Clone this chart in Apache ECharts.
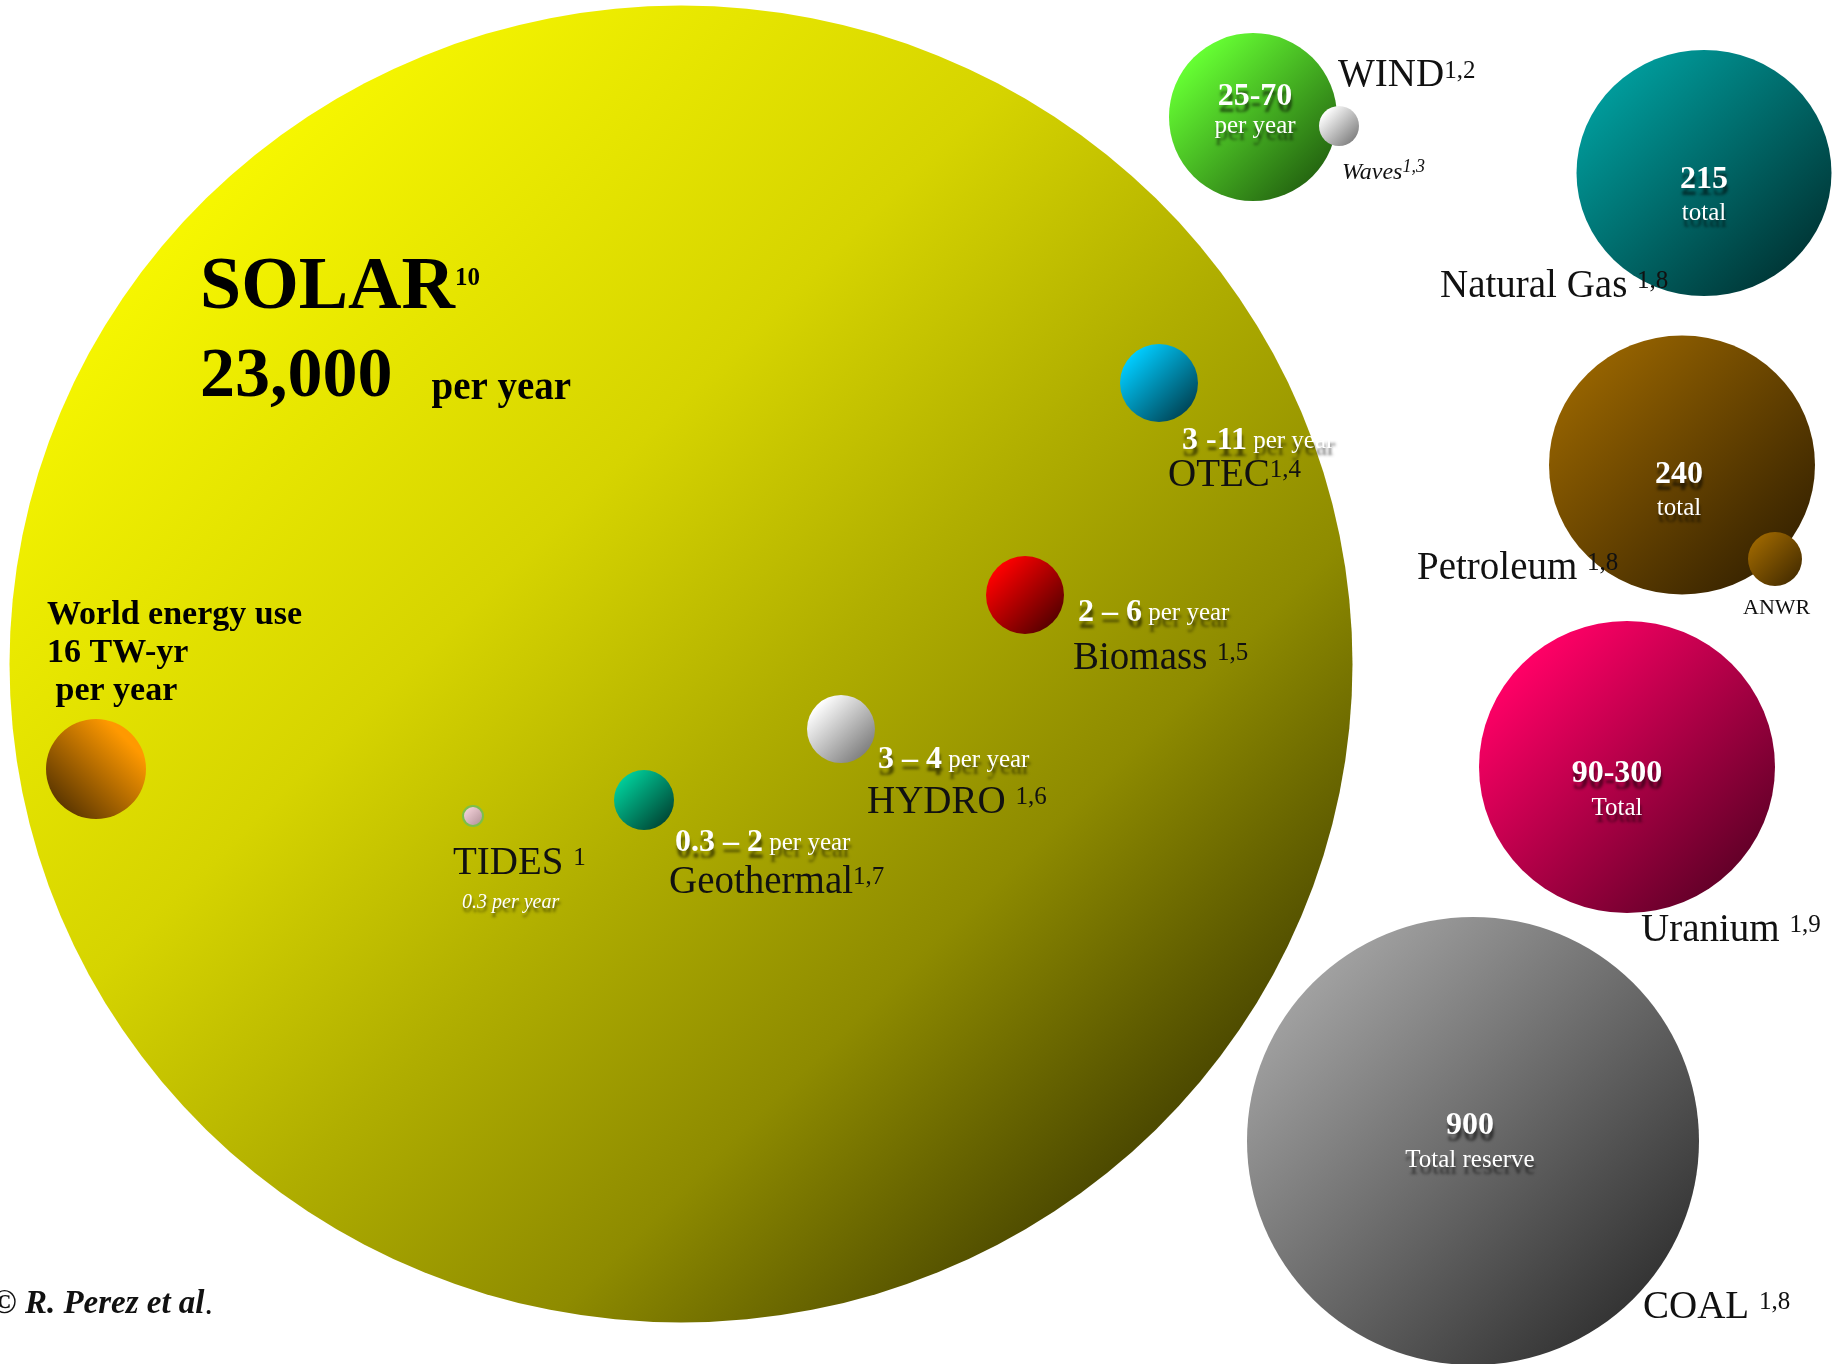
<!DOCTYPE html>
<html><head><meta charset="utf-8">
<script src="https://cdn.jsdelivr.net/npm/echarts@6/dist/echarts.min.js"></script>
<style>html,body{margin:0;padding:0;background:#fff}#c{width:1836px;height:1364px}</style>
</head><body><div id="c"></div><script>
// ---- data ----
const sources   = ['Solar','World energy use','Wind','Waves','Natural Gas','Petroleum','ANWR','Uranium','Coal','OTEC','Biomass','Hydro','Geothermal','Tides'];
const amounts   = ['23,000 per year','16 TW-yr per year','25-70 per year','','215 total','240 total','','90-300 Total','900 Total reserve','3-11 per year','2-6 per year','3-4 per year','0.3-2 per year','0.3 per year'];
const layoutX   = [681, 96, 1253, 1339, 1704, 1682, 1775, 1627, 1473, 1159, 1025, 841, 644, 473];
const layoutY   = [664, 769, 117, 126, 173, 465, 559, 767, 1141, 383, 595, 729, 800, 816];
const widths    = [1343, 100, 168, 40, 255, 266, 54, 296, 452, 78, 78, 68, 60, 20];
const heights   = [1317, 100, 168, 40, 246, 259, 54, 292, 448, 78, 78, 68, 60, 20];
const lightCols = ['#ffff00','#ff9900','#66ff33','#ffffff','#009a9a','#946200','#9a6500','#ff0066','#a0a0a0','#00ccff','#ff0000','#ffffff','#00cc99','#f6d4dc'];
const darkCols  = ['#2e2c00','#3a2200','#18480a','#6a6a6a','#002424','#271800','#3a2500','#44001c','#1e1e1e','#002c38','#380000','#666666','#003024','#a88890'];

const FONT = '"Liberation Serif", "Times New Roman", serif';

// ---- bubbles ----
const bubbleData = sources.map((name, i) => {
  let grad;
  if (i === 0) {
    grad = new echarts.graphic.LinearGradient(0, 0, 1, 1, [
      {offset: 0, color: '#ffff00'}, {offset: 0.15, color: '#f6f600'},
      {offset: 0.4, color: '#d6d400'}, {offset: 0.55, color: '#b0ae00'},
      {offset: 0.7, color: '#8e8b00'}, {offset: 0.85, color: '#4e4b00'},
      {offset: 1, color: darkCols[0]}]);
  } else if (name === 'World energy use') {
    grad = new echarts.graphic.LinearGradient(1, 0, 0, 1, [
      {offset: 0, color: lightCols[i]}, {offset: 0.2, color: lightCols[i]}, {offset: 1, color: darkCols[i]}]);
  } else {
    grad = new echarts.graphic.LinearGradient(0, 0, 1, 1, [
      {offset: 0, color: lightCols[i]}, {offset: 0.15, color: lightCols[i]}, {offset: 1, color: darkCols[i]}]);
  }
  const item = { name: name, value: [layoutX[i], layoutY[i], widths[i], heights[i]], itemStyle: { color: grad, opacity: 1 } };
  if (name === 'Tides') { item.itemStyle.borderColor = '#7cbf4a'; item.itemStyle.borderWidth = 2; }
  return item;
});

// ---- annotations: [x, baseline, align, rich text, main size, line height] ----
const notes = [
  [200, 310, 'left', '{solar|SOLAR}{solarSup|10}', 74, 84],
  [200, 398, 'left', '{num|23,000}{perB|    per year}', 70, 80],
  [47, 623, 'left', '{w|World energy use}\n{w|16 TW-yr}\n{w| per year}', 34, 38],
  [1338, 85, 'left', '{name|WIND}{sup|1,2}', 38, 44],
  [1342, 177, 'left', '{it|Waves}{itSup|1,3}', 24, 28],
  [1255, 104, 'center', '{wnum|25-70}', 32, 38],
  [1255, 131, 'center', '{wsub|per year}', 25, 30],
  [1440, 296, 'left', '{name|Natural Gas }{sup|1,8}', 39, 44],
  [1704, 187, 'center', '{wnum|215}', 32, 38],
  [1704, 218, 'center', '{wsub|total}', 25, 30],
  [1417, 578, 'left', '{name|Petroleum }{sup|1,8}', 39, 44],
  [1679, 482, 'center', '{wnum|240}', 32, 38],
  [1679, 513, 'center', '{wsub|total}', 25, 30],
  [1743, 612, 'left', '{anwr|ANWR}', 22, 26],
  [1617, 781, 'center', '{wnum|90-300}', 32, 38],
  [1617, 813, 'center', '{wsub|Total}', 25, 30],
  [1641, 940, 'left', '{name|Uranium }{sup|1,9}', 39, 44],
  [1470, 1133, 'center', '{wnum|900}', 32, 38],
  [1470, 1165, 'center', '{wsub|Total reserve}', 25, 30],
  [1643, 1317, 'left', '{name|COAL }{sup|1,8}', 39, 44],
  [1182, 448, 'left', '{n|3 -11}{s| per year}', 32, 38],
  [1168, 485, 'left', '{name|OTEC}{sup|1,4}', 39, 44],
  [1078, 620, 'left', '{n|2 – 6}{s| per year}', 32, 38],
  [1073, 668, 'left', '{name|Biomass }{sup|1,5}', 39, 44],
  [878, 767, 'left', '{n|3 – 4}{s| per year}', 32, 38],
  [867, 812, 'left', '{name|HYDRO }{sup|1,6}', 39, 44],
  [675, 850, 'left', '{n|0.3 – 2}{s| per year}', 32, 38],
  [669, 892, 'left', '{name|Geothermal}{sup|1,7}', 39, 44],
  [453, 873, 'left', '{name|TIDES }{sup|1}', 39, 44],
  [462, 905, 'left', '{wit|0.3 per year}', 20, 24],
  [-8, 1312, 'left', '{copy|© R. Perez et al}{copyDot|.}', 33, 38]
];

const SH = { textShadowColor: 'rgba(0,0,0,0.55)', textShadowBlur: 3, textShadowOffsetX: 1, textShadowOffsetY: 7 };
const base = (size, extra) => Object.assign({ fontFamily: FONT, fontSize: size, color: '#111', textBorderWidth: 0 }, extra || {});
const rich = {
  solar: base(74, { fontWeight: 'bold', color: '#000', lineHeight: 84 }),
  solarSup: base(25, { fontWeight: 'bold', color: '#000', verticalAlign: 'top', height: 64 }),
  num: base(70, { fontWeight: 'bold', color: '#000', lineHeight: 80 }),
  perB: base(39, { fontWeight: 'bold', color: '#000', verticalAlign: 'bottom', height: 58 }),
  w: base(34, { fontWeight: 'bold', color: '#000', lineHeight: 38 }),
  name: base(39, { lineHeight: 44 }),
  sup: base(25, { verticalAlign: 'top', height: 34 }),
  it: base(24, { fontStyle: 'italic', lineHeight: 28 }),
  itSup: base(18, { fontStyle: 'italic', verticalAlign: 'top', height: 17 }),
  anwr: base(22, { lineHeight: 26 }),
  wnum: base(32, Object.assign({ fontWeight: 'bold', color: '#fff', lineHeight: 38 }, SH)),
  wsub: base(25, Object.assign({ color: '#fff', lineHeight: 30 }, SH)),
  n: base(32, Object.assign({ fontWeight: 'bold', color: '#fff', lineHeight: 38 }, SH)),
  s: base(25, Object.assign({ color: '#fff' }, SH)),
  wit: base(20, Object.assign({ fontStyle: 'italic', color: '#fff', lineHeight: 24 }, SH, { textShadowOffsetY: 4 })),
  copy: base(33, { fontWeight: 'bold', fontStyle: 'italic', lineHeight: 38 }),
  copyDot: base(33, { lineHeight: 38 })
};

const noteData = notes.map(n => {
  const [x, bl, align, text, size, lh] = n;
  const top = bl - lh / 2 - 0.3375 * size + 4;
  return {
    value: [x, top],
    label: { show: true, position: [0, 0], align: align, verticalAlign: 'top', formatter: text, rich: rich }
  };
});

const chart = echarts.init(document.getElementById('c'), null, { renderer: 'canvas' });
chart.setOption({
  animation: false,
  backgroundColor: '#ffffff',
  grid: { left: 0, right: 0, top: 0, bottom: 0 },
  xAxis: { type: 'value', min: 0, max: 1836, show: false },
  yAxis: { type: 'value', min: 0, max: 1364, inverse: true, show: false },
  series: [
    {
      type: 'scatter', silent: true, clip: false, z: 2,
      symbol: 'circle',
      symbolSize: v => [v[2], v[3]],
      itemStyle: { opacity: 1 },
      data: bubbleData
    },
    {
      type: 'scatter', silent: true, clip: false, z: 5,
      symbolSize: 0,
      itemStyle: { color: 'rgba(0,0,0,0)', opacity: 1 },
      label: { show: true, textBorderWidth: 0 },
      data: noteData
    }
  ]
});
</script></body></html>
